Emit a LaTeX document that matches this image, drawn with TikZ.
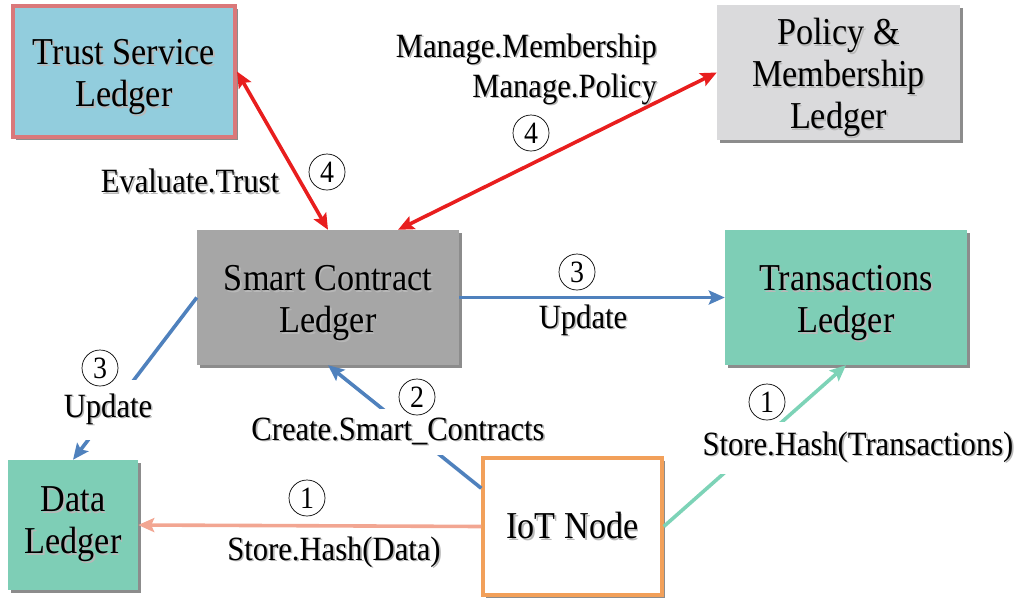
\documentclass[tikz,border=0pt]{standalone}
\usepackage{fontspec}
\newfontfamily\serifnarrow{Liberation Serif}[FakeStretch=0.9]
\usetikzlibrary{arrows.meta,shadows}

\definecolor{trustblue}{RGB}{146,205,221}
\definecolor{trustedge}{RGB}{218,120,122}
\definecolor{policygray}{RGB}{218,218,220}
\definecolor{contractgray}{RGB}{166,166,166}
\definecolor{ledgerteal}{RGB}{126,206,182}
\definecolor{iotorange}{RGB}{242,160,90}
\definecolor{linkred}{RGB}{232,30,30}
\definecolor{linkblue}{RGB}{79,129,189}
\definecolor{linksalmon}{RGB}{242,166,146}
\definecolor{linkmint}{RGB}{125,211,183}

% text with a soft grey shadow offset to the lower right
\newcommand\shd[1]{\leavevmode\makebox[0pt][l]{\hspace{1.6pt}\raisebox{-1.6pt}{\color{black!28}#1}}#1}
% extra room above the first line, so box captions sit a little low
\newcommand\toproom{\rule{0pt}{38pt}}

\tikzset{
  ledger/.style={rectangle, align=center, inner sep=0pt,
    font=\serifnarrow\fontsize{38}{42}\selectfont,
    drop shadow={shadow xshift=3pt, shadow yshift=-3pt, opacity=0.45, fill=black}},
  lbl/.style={inner sep=0pt, font=\serifnarrow\fontsize{34}{40}\selectfont},
  cut/.style={fill=white, inner xsep=4pt},
  num/.style={circle, draw, fill=white, line width=0.7pt, minimum size=36pt,
    inner sep=0pt, font=\serifnarrow\fontsize{31}{31}\selectfont},
  link/.style={line width=3.6pt, -{Stealth[length=16pt, width=14pt, inset=3pt]}},
  twoway/.style={line width=3.6pt, color=linkred,
    {Stealth[length=16pt, width=14pt, inset=3pt]}-{Stealth[length=16pt, width=14pt, inset=3pt]}}
}

\begin{document}
\begin{tikzpicture}[x=1pt, y=-1pt]
\useasboundingbox (0,0) rectangle (1023,603);

% ledgers
\node[ledger, fill=trustblue, draw=trustedge, line width=4pt,
      minimum width=222pt, minimum height=131pt] (tsl) at (124,71.5)
      {\toproom\shd{Trust Service}\\\shd{Ledger}};
\node[ledger, fill=policygray, minimum width=243pt, minimum height=135pt]
      (pml) at (838.5,72.5) {\toproom\shd{Policy \&}\\\shd{Membership}\\\shd{Ledger}};
\node[ledger, fill=contractgray, minimum width=262pt, minimum height=135pt]
      (sc) at (328,297.5) {\toproom\shd{Smart Contract}\\\shd{Ledger}};
\node[ledger, fill=ledgerteal, minimum width=242pt, minimum height=135pt]
      (tl) at (846,297.5) {\toproom\shd{Transactions}\\\shd{Ledger}};
\node[ledger, fill=ledgerteal, minimum width=130pt, minimum height=130pt]
      (dl) at (73,525) {\shd{Data}\\\shd{Ledger}};
\node[ledger, fill=white, draw=iotorange, line width=3.5pt,
      minimum width=179pt, minimum height=137pt] (iot) at (572.5,526.5) {\shd{IoT Node}};

% connectors
\draw[twoway] (tsl.east) -- (sc.north);
\draw[twoway] ([xshift=70pt]sc.north) -- (pml.west);
\draw[link, linkblue] (sc.east) -- (tl.west);
\draw[link, linkblue] (sc.west) -- (dl.north);
\draw[link, linkblue] ([yshift=-32pt]iot.north west) -- (sc.south);
\draw[link, linksalmon] (iot.west) -- (dl.east);
\draw[link, linkmint] (iot.east) -- (tl.south);

% labels
\node[lbl] (evl) at (190,182) {\shd{Evaluate.Trust}};
\node[num] (n4a) at (327,172) {4};
\node[lbl, align=right, anchor=east] (mgl) at (657,70)
      {\shd{Manage.Membership}\\\shd{Manage.Policy}};
\node[num] (n4b) at (531,133) {4};
\node[num] (n3a) at (577,272) {3};
\node[lbl] (upr) at (583,321) {\shd{Update}};
\node[lbl, cut, inner ysep=14pt] (upl) at (108,410) {\shd{Update}};
\node[num] (n3b) at (100,368) {3};
\node[lbl, cut, inner ysep=9pt] (csc) at (398,432) {\shd{Create.Smart\_Contracts}};
\node[num] (n2) at (417,397) {2};
\node[lbl, cut, inner ysep=10pt] (sht) at (858,448) {\shd{Store.Hash(Transactions)}};
\node[num] (n1a) at (767,402) {1};
\node[lbl] (shd) at (334,553) {\shd{Store.Hash(Data)}};
\node[num] (n1b) at (307,498) {1};
\end{tikzpicture}
\end{document}
